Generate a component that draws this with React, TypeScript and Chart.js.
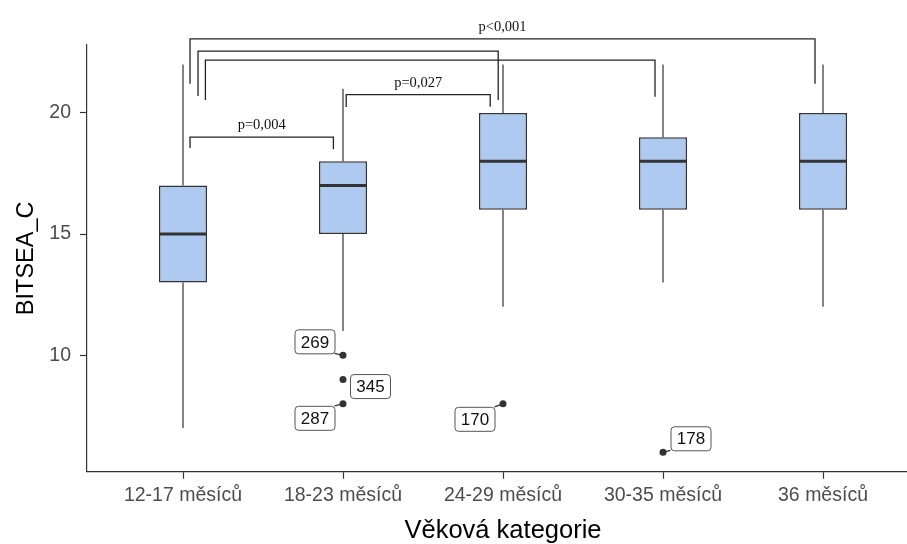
import React, { useEffect, useRef } from 'react';
import { Chart, registerables } from 'chart.js';

Chart.register(...registerables);

// ---------- data ----------
const categories = ['12-17 měsíců', '18-23 měsíců', '24-29 měsíců', '30-35 měsíců', '36 měsíců'];
const whiskerLow = [7, 11, 12, 13, 12];
const q1 = [13, 15, 16, 16, 16];
const median = [15, 17, 18, 18, 18];
const q3 = [17, 18, 20, 19, 20];
const whiskerHigh = [22, 21, 22, 22, 22];

const outlierCategory = [1, 1, 1, 2, 3];
const outlierValue = [10, 9, 8, 8, 6];
const outlierId = ['269', '345', '287', '170', '178'];

const yTicks = [10, 15, 20];
const yMin = 5.2;
const yMax = 22.8;

// significance brackets (x in category units, y in data units)
const bracketXMin = [0.044, 1.02, 0.14, 0.094, 0.044];
const bracketXMax = [0.94, 1.92, 2.95, 1.97, 3.95];
const bracketY = [19.0, 20.75, 22.18, 22.55, 23.05];
const bracketTipLeft = [18.55, 20.24, 20.53, 20.7, 21.2];
const bracketTipRight = [18.5, 20.25, 20.67, 20.53, 21.2];
const bracketLabel = ['p=0,004', 'p=0,027', '', '', 'p<0,001'];

// label placement offsets for outlier ids (style, px)
const labelDx = [-28.5, 27, -28.5, -28.5, 27.5];
const labelDy = [-14, 6.5, 14, 15, -14];
const labelSegment = [true, false, true, true, true];

const BOX_FILL = '#aecaf1';
const DARK = '#333333';
const SANS = '"Liberation Sans", Arial, sans-serif';
const SERIF = '"Liberation Serif", "Times New Roman", serif';

const boxPlugin = {
  id: 'boxExtras',
  afterDatasetsDraw(chart: any) {
    const { ctx, scales } = chart;
    const xs = scales.x;
    const ys = scales.y;
    const boxMeta = chart.getDatasetMeta(0);
    ctx.save();
    // whiskers and medians
    categories.forEach((_, i) => {
      const bar = boxMeta.data[i];
      const half = bar.width / 2;
      const cx = xs.getPixelForValue(i);
      ctx.strokeStyle = DARK;
      ctx.lineWidth = 1.2;
      ctx.beginPath();
      ctx.moveTo(cx, ys.getPixelForValue(q3[i]));
      ctx.lineTo(cx, ys.getPixelForValue(whiskerHigh[i]));
      ctx.moveTo(cx, ys.getPixelForValue(q1[i]));
      ctx.lineTo(cx, ys.getPixelForValue(whiskerLow[i]));
      ctx.stroke();
      ctx.lineWidth = 3;
      ctx.beginPath();
      const my = ys.getPixelForValue(median[i]);
      ctx.moveTo(cx - half, my);
      ctx.lineTo(cx + half, my);
      ctx.stroke();
    });

    // brackets
    bracketY.forEach((by, k) => {
      const x1 = xs.getPixelForValue(bracketXMin[k]);
      const x2 = xs.getPixelForValue(bracketXMax[k]);
      const y = ys.getPixelForValue(by);
      ctx.strokeStyle = '#222222';
      ctx.lineWidth = 1.3;
      ctx.beginPath();
      ctx.moveTo(x1, ys.getPixelForValue(bracketTipLeft[k]));
      ctx.lineTo(x1, y);
      ctx.lineTo(x2, y);
      ctx.lineTo(x2, ys.getPixelForValue(bracketTipRight[k]));
      ctx.stroke();
      if (bracketLabel[k]) {
        ctx.fillStyle = '#111';
        ctx.font = `14.5px ${SERIF}`;
        ctx.textAlign = 'center';
        ctx.textBaseline = 'alphabetic';
        ctx.fillText(bracketLabel[k], (x1 + x2) / 2, y - 8);
      }
    });

    // outlier labels
    ctx.font = `17px ${SANS}`;
    outlierValue.forEach((v, k) => {
      const px = xs.getPixelForValue(outlierCategory[k]);
      const py = ys.getPixelForValue(v);
      const w = 40;
      const h = 24;
      const cx = px + labelDx[k];
      const cy = py + labelDy[k];
      const l = cx - w / 2, r = cx + w / 2, t = cy - h / 2, b = cy + h / 2;
      if (labelSegment[k]) {
        const nx = Math.max(l, Math.min(px, r));
        const ny = Math.max(t, Math.min(py, b));
        ctx.strokeStyle = DARK;
        ctx.lineWidth = 1.3;
        ctx.beginPath();
        ctx.moveTo(px, py);
        ctx.lineTo(nx, ny);
        ctx.stroke();
      }
      ctx.fillStyle = '#ffffff';
      ctx.strokeStyle = '#555555';
      ctx.lineWidth = 1;
      ctx.beginPath();
      (ctx as any).roundRect(l + 0.5, t + 0.5, w, h, 3.5);
      ctx.fill();
      ctx.stroke();
      ctx.fillStyle = '#111111';
      ctx.textAlign = 'center';
      ctx.textBaseline = 'middle';
      ctx.fillText(outlierId[k], cx + 0.5, cy + 1.5);
    });
    ctx.restore();
  },
};

export default function App() {
  const canvasRef = useRef<HTMLCanvasElement | null>(null);

  useEffect(() => {
    document.body.style.margin = '0';
    const canvas = canvasRef.current;
    if (!canvas) return;
    const chart = new Chart(canvas, {
      type: 'bar',
      data: {
        datasets: [
          {
            type: 'bar',
            data: categories.map((_, i) => ({ x: i, y: [q1[i], q3[i]] })) as any,
            backgroundColor: BOX_FILL,
            borderColor: DARK,
            borderWidth: 1.5,
            borderSkipped: false,
            categoryPercentage: 1,
            barPercentage: 0.3,
          } as any,
          {
            type: 'scatter',
            data: outlierValue.map((v, k) => ({ x: outlierCategory[k], y: v })),
            backgroundColor: DARK,
            borderWidth: 0,
            pointRadius: 3.5,
          } as any,
        ],
      },
      options: {
        animation: false,
        responsive: false,
        devicePixelRatio: 1,
        layout: { padding: { top: 45, right: 11, bottom: 0, left: 0 } },
        plugins: { legend: { display: false }, tooltip: { enabled: false } },
        scales: {
          x: {
            type: 'linear',
            min: -0.6,
            max: 4.6,
            offset: false,
            afterBuildTicks: (scale: any) => {
              scale.ticks = categories.map((_, i) => ({ value: i }));
            },
            afterFit: (scale: any) => {
              scale.height = 72.3;
            },
            ticks: {
              autoSkip: false,
              maxRotation: 0,
              padding: 5,
              color: '#4d4d4d',
              font: { family: SANS, size: 19.5 },
              callback: (v: any) => categories[v] ?? '',
            },
            grid: {
              display: true,
              offset: false,
              drawOnChartArea: false,
              drawTicks: true,
              tickLength: 7,
              tickColor: DARK,
              tickWidth: 1.2,
            },
            border: { display: true, color: DARK, width: 1.2 },
            title: {
              display: true,
              text: 'Věková kategorie',
              color: '#000',
              font: { family: SANS, size: 25.5, lineHeight: 1.0 },
              padding: { top: 0, bottom: 0 },
            },
          },
          y: {
            type: 'linear',
            min: yMin,
            max: yMax,
            afterBuildTicks: (scale: any) => {
              scale.ticks = yTicks.map((v) => ({ value: v }));
            },
            afterFit: (scale: any) => {
              scale.width = 87;
            },
            ticks: {
              padding: 9,
              color: '#4d4d4d',
              font: { family: SANS, size: 19.5 },
              callback: (v: any) => String(v),
            },
            grid: {
              display: true,
              offset: false,
              drawOnChartArea: false,
              drawTicks: true,
              tickLength: 7,
              tickColor: DARK,
              tickWidth: 1.2,
            },
            border: { display: true, color: DARK, width: 1.2 },
            title: {
              display: true,
              text: 'BITSEA_C',
              color: '#000',
              font: { family: SANS, size: 23.5 },
              padding: { top: 12, bottom: 0 },
            },
          },
        },
      },
      plugins: [boxPlugin],
    });
    return () => chart.destroy();
  }, []);

  return (
    <div
      style={{
        position: 'fixed',
        left: 0,
        top: 0,
        width: 907,
        height: 544,
        overflow: 'hidden',
        background: '#ffffff',
      }}
    >
      <canvas ref={canvasRef} width={930} height={544} style={{ width: 930, height: 544, display: 'block' }} />
    </div>
  );
}
